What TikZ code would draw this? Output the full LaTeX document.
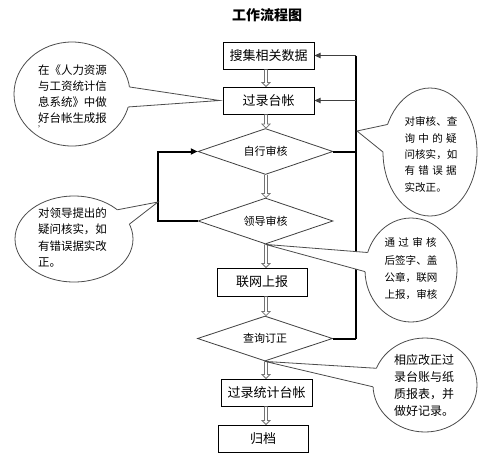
\documentclass[tikz,border=0pt]{standalone}
\usepackage{fontspec}
\setmainfont{Noto Sans CJK SC}
\usetikzlibrary{shapes.geometric,arrows.meta,calc}
\def\pxu{0.75pt}
\tikzset{
  box/.style={draw=black, line width=0.75pt, minimum width=91*\pxu, minimum height=27*\pxu, inner sep=0pt, font=\fontsize{9.75pt}{11pt}\selectfont},
  dia/.style={diamond, aspect=2.9, draw=black!75, line width=0.6pt, minimum width=135*\pxu, minimum height=46*\pxu, inner sep=0pt, font=\fontsize{8.25pt}{10pt}\selectfont},
  callout/.style={ellipse, draw=black!70, line width=0.6pt, fill=white, inner sep=0pt, outer sep=0pt},
  ctext/.style={align=left, inner sep=0pt},
  tail/.style={draw=black!70, line width=0.6pt, line join=miter},
  darr/.style={draw=black!55, line width=0.55pt, fill=white, line join=miter},
  vline/.style={draw=black, line width=1.1pt},
  hline/.style={draw=black, line width=1.5pt},
  harr/.style={draw=black!75, line width=0.7pt, -{Triangle[length=4.5pt,width=4pt]}},
}
\newcommand\dblarr[2]{%
  \draw[darr] let \p1=(#1.south), \p2=(#2.north), \p3=(axis) in
    (\x3-1.2pt,\y1) -- (\x3-1.2pt,\y2+3pt) -- (\x3-3pt,\y2+3pt) -- (\x3,\y2)
    -- (\x3+3pt,\y2+3pt) -- (\x3+1.2pt,\y2+3pt) -- (\x3+1.2pt,\y1);}
\begin{document}
\begin{tikzpicture}[x=\pxu, y=-\pxu]
\useasboundingbox[fill=white] (0,0) rectangle (500,455);
\node[font=\bfseries\fontsize{10.5pt}{12pt}\selectfont] (title) at (267,15) {工作流程图};

% flow nodes
\node[box] (b1) at (268.5,55.5) {搜集相关数据};
\node[box] (b2) at (268.5,100.5) {过录台帐};
\node[dia] (d1) at (265.5,151.5) {自行审核};
\node[dia] (d2) at (265.5,221) {领导审核};
\node[box, minimum width=90*\pxu, minimum height=28*\pxu] (b3) at (262,282) {联网上报};
\node[dia, minimum height=45*\pxu] (d3) at (265,338.5) {查询订正};
\node[box] (b4) at (266.5,392.5) {过录统计台帐};
\node[box, minimum width=90*\pxu] (b5) at (263,438.5) {归档};
\coordinate (axis) at (266,0);

% double arrows
\dblarr{b1}{b2}
\dblarr{b2}{d1}
\dblarr{d1}{d2}
\dblarr{d2}{b3}
\dblarr{b3}{d3}
\dblarr{d3}{b4}
\dblarr{b4}{b5}

% right feedback line
\coordinate (r1) at (356,55.5);
\coordinate (r2) at (356,100.5);
\coordinate (r3) at (356,151.5);
\coordinate (r4) at (356,338.5);
\draw[vline] (r1) -- (r4);
\draw[harr] (r1) -- (b1.east);
\draw[harr] (r2) -- (b2.east);
\draw[hline] (d1.east) -- (r3);
\draw[hline] (d3.east) -- (r4);

% left loop
\coordinate (l1) at (158,221);
\coordinate (l2) at (158,151.5);
\draw[hline, line join=miter, -{Triangle[length=5pt,width=4.5pt]}] (d2.west) -- (l1) -- (l2) -- (d1.west);

% callout 1
\node[callout, minimum width=116*\pxu, minimum height=104*\pxu] (c1) at (72,94) {};
\coordinate (t1) at ($(b2.west)+(-3,0)$);
\fill[white] (t1) -- (c1.7) -- (c1.center) -- (c1.347) -- cycle;
\draw[tail] (c1.7) -- (t1) -- (c1.347);
\node[ctext, font=\fontsize{8.6pt}{12pt}\selectfont] (c1t) at (72.5,94) {在《人力资源\\与工资统计信\\息系统》中做\\好台帐生成报};
\node[inner sep=0pt, font=\fontsize{6pt}{6pt}\selectfont] (c1m) at (42,129) {'};

% callout 2
\node[callout, minimum width=94*\pxu, minimum height=128*\pxu] (c2) at (430,152) {};
\coordinate (t2) at (357,131);
\fill[white] (t2) -- (c2.147) -- (c2.center) -- (c2.180) -- cycle;
\draw[tail] (c2.147) -- (t2) -- (c2.180);
\node[ctext, font=\fontsize{7.9pt}{12.2pt}\selectfont] (c2t) at (431,154.5) {对审核、查\\\makebox[39pt][s]{询\hfill 中\hfill 的\hfill 疑}\\问核实，如\\\makebox[39pt][s]{有\hfill 错\hfill 误\hfill 据}\\实改正。};

% callout 3
\node[callout, minimum width=118*\pxu, minimum height=86*\pxu] (c3) at (74,239) {};
\coordinate (t3) at (158,202);
\fill[white] (t3) -- (c3.34) -- (c3.center) -- (c3.15) -- cycle;
\draw[tail] (c3.34) -- (t3) -- (c3.15);
\node[ctext, font=\fontsize{8.6pt}{12.2pt}\selectfont] (c3t) at (72.5,237.5) {对领导提出的\\疑问核实，如\\有错误据实改\\正。};

% callout 4
\node[callout, minimum width=92*\pxu, minimum height=104*\pxu] (c4) at (411,270) {};
\fill[white] (d2.south) -- (c4.158) -- (c4.center) -- (c4.182) -- cycle;
\draw[tail] (c4.158) -- (d2.south) -- (c4.182);
\node[ctext, font=\fontsize{7.9pt}{13pt}\selectfont] (c4t) at (411,269) {\makebox[39pt][s]{通\hfill 过\hfill 审\hfill 核}\\后签字、盖\\公章，联网\\上报，审核};

% callout 5
\node[callout, minimum width=104*\pxu, minimum height=94*\pxu] (c5) at (425,385) {};
\fill[white] (d3.south) -- (c5.161) -- (c5.center) -- (c5.182) -- cycle;
\draw[tail] (c5.161) -- (d3.south) -- (c5.182);
\node[ctext, font=\fontsize{9pt}{12.8pt}\selectfont] (c5t) at (424,385) {相应改正过\\录台账与纸\\质报表，并\\做好记录。};
\end{tikzpicture}
\end{document}
